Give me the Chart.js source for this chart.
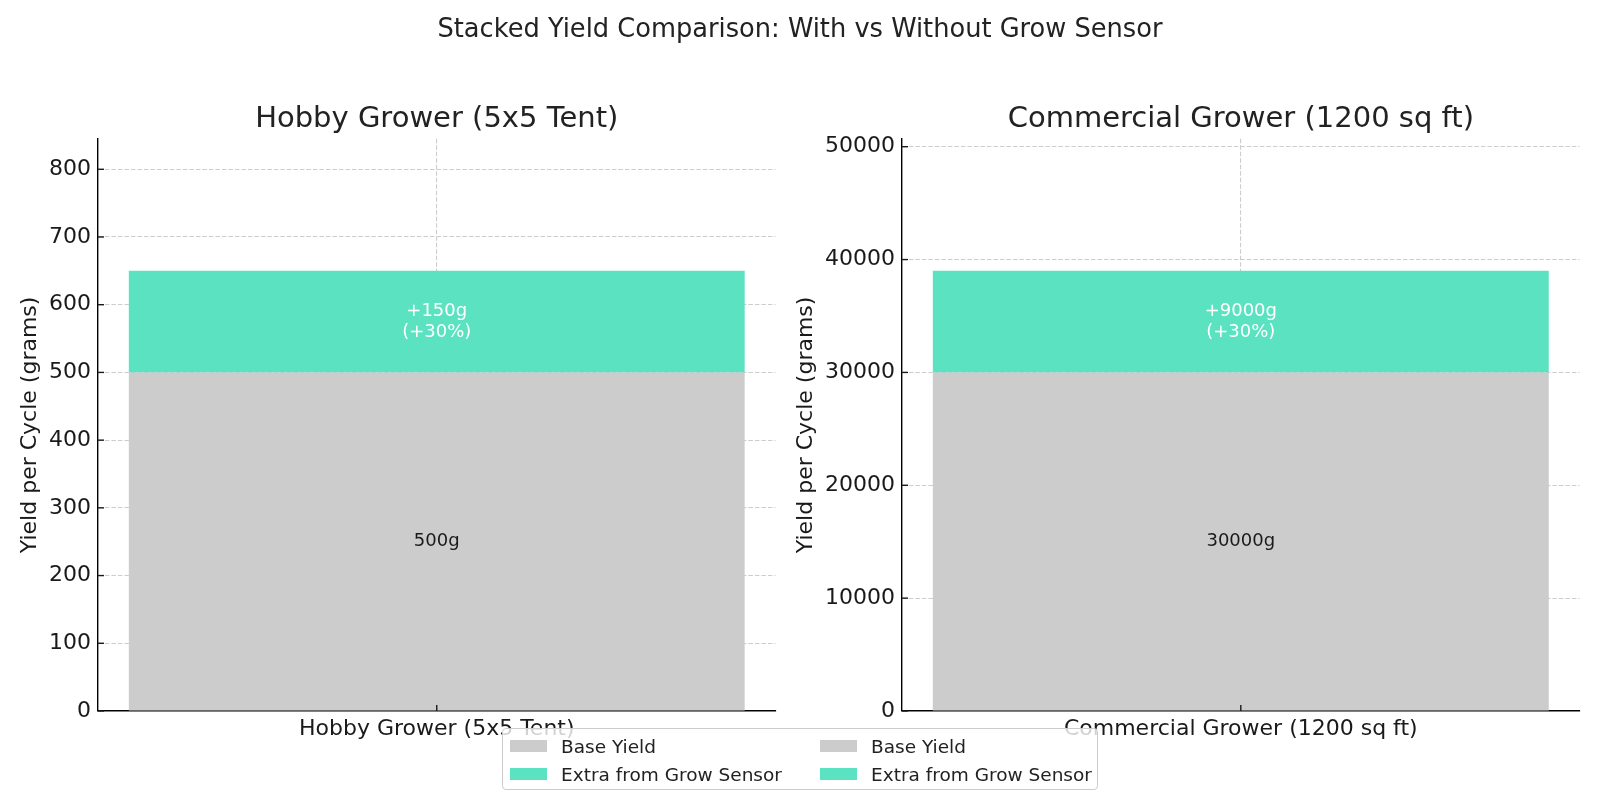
<!DOCTYPE html>
<html>
<head>
<meta charset="utf-8">
<script src="https://cdn.jsdelivr.net/npm/chart.js@4.4.1/dist/chart.umd.min.js"></script>
<style>
html,body{margin:0;padding:0;background:#fff;width:1600px;height:800px;overflow:hidden;font-family:'DejaVu Sans',sans-serif;}
#wrap{position:relative;width:1600px;height:800px;}
canvas{position:absolute;top:0;}
#cA{left:0;}
#cB{left:780px;}
#sup{position:absolute;left:0;width:1600px;top:15px;text-align:center;font-size:25.7px;line-height:26px;color:#222;white-space:nowrap;}
#legend{position:absolute;left:502px;top:728px;width:596px;height:62px;box-sizing:border-box;border:1px solid #cccccc;border-radius:4px;background:rgba(255,255,255,0.8);}
.item{position:absolute;height:28px;display:flex;align-items:center;font-size:18.5px;color:#222;white-space:nowrap;}
.sw{width:37px;height:12px;margin-right:14px;flex:none;}
</style>
</head>
<body>
<div id="wrap">
  <canvas id="cA" width="800" height="800"></canvas>
  <canvas id="cB" width="820" height="800"></canvas>
  <div id="sup"></div>
  <div id="legend"></div>
</div>
<script>
// ---------------- data ----------------
const suptitle = 'Stacked Yield Comparison: With vs Without Grow Sensor';
const subTitles = ['Hobby Grower (5x5 Tent)', 'Commercial Grower (1200 sq ft)'];
const categoriesA = ['Hobby Grower (5x5 Tent)'];
const categoriesB = ['Commercial Grower (1200 sq ft)'];
const seriesNames = ['Base Yield', 'Extra from Grow Sensor'];
const seriesColors = ['#cccccc', '#5ae2c1'];
const baseYieldA = [500];
const extraYieldA = [150];
const baseYieldB = [30000];
const extraYieldB = [9000];
const yTicksA = [0, 100, 200, 300, 400, 500, 600, 700, 800];
const yTicksB = [0, 10000, 20000, 30000, 40000, 50000];
const yMaxA = 845;
const yMaxB = 50700;
const yAxisTitle = 'Yield per Cycle (grams)';

// ---------------- helpers ----------------
const FONT = "'DejaVu Sans', sans-serif";
Chart.defaults.font.family = FONT;
Chart.defaults.color = '#1a1a1a';
const GRID = 'rgba(200,200,200,0.9)';

function labelsFor(base, extra) {
  return [
    base.map(v => [v + 'g']),
    extra.map((v, i) => ['+' + v + 'g', '(+' + Math.round(v / base[i] * 100) + '%)'])
  ];
}

const decor = {
  id: 'decor',
  afterDraw(chart, args, opts) {
    const ctx = chart.ctx;
    const ca = chart.chartArea;
    // data labels
    chart.data.datasets.forEach((ds, di) => {
      const meta = chart.getDatasetMeta(di);
      meta.data.forEach((bar, i) => {
        const lines = opts.labels[di][i];
        const cy = (bar.y + bar.base) / 2;
        ctx.save();
        ctx.font = '18px ' + FONT;
        ctx.fillStyle = opts.labelColors[di];
        ctx.textAlign = 'center';
        ctx.textBaseline = 'middle';
        const lh = 20.5;
        lines.forEach((t, k) => ctx.fillText(t, bar.x, cy + (k - (lines.length - 1) / 2) * lh));
        ctx.restore();
      });
    });
    // inward tick marks
    ctx.save();
    ctx.strokeStyle = '#1a1a1a';
    ctx.lineWidth = 1.4;
    const ys = chart.scales.y;
    ys.ticks.forEach(t => {
      const py = ys.getPixelForValue(t.value);
      ctx.beginPath(); ctx.moveTo(ca.left, py); ctx.lineTo(ca.left + 6, py); ctx.stroke();
    });
    const xs = chart.scales.x;
    xs.ticks.forEach((t, i) => {
      const px = xs.getPixelForTick(i);
      ctx.beginPath(); ctx.moveTo(px, ca.bottom); ctx.lineTo(px, ca.bottom - 6); ctx.stroke();
    });
    ctx.restore();
    // subplot title
    ctx.save();
    ctx.font = '29px ' + FONT;
    ctx.fillStyle = '#222';
    ctx.textAlign = 'center';
    ctx.textBaseline = 'middle';
    ctx.fillText(opts.title, (ca.left + ca.right) / 2, 119);
    ctx.restore();
  }
};

function makeChart(id, cats, base, extra, ticks, yMax, yWidth, padRight, titlePad, title) {
  const labels = labelsFor(base, extra);
  return new Chart(document.getElementById(id), {
    type: 'bar',
    data: {
      labels: cats,
      datasets: [
        { label: seriesNames[0], data: base, backgroundColor: seriesColors[0], borderWidth: 0,
          categoryPercentage: 1, barPercentage: 0.909 },
        { label: seriesNames[1], data: extra, backgroundColor: seriesColors[1], borderWidth: 0,
          categoryPercentage: 1, barPercentage: 0.909 }
      ]
    },
    plugins: [decor],
    options: {
      responsive: false,
      animation: false,
      events: [],
      layout: { padding: { top: 138.8, left: 0, right: padRight, bottom: 0 } },
      plugins: {
        legend: { display: false },
        tooltip: { enabled: false },
        title: { display: false },
        decor: { labels: labels, labelColors: ['#1a1a1a', '#ffffff'], title: title }
      },
      scales: {
        x: {
          stacked: true,
          offset: true,
          z: 1,
          grid: { offset: false, color: GRID, lineWidth: 1.1, drawTicks: false },
          border: { display: true, color: '#000', width: 1.4, dash: [4.5, 2] },
          ticks: { font: { size: 22 }, color: '#1a1a1a', padding: 5, maxRotation: 0 },
          afterFit(s) { s.height = 89; }
        },
        y: {
          stacked: true,
          min: 0,
          max: yMax,
          z: 1,
          grid: { color: GRID, lineWidth: 1.1, drawTicks: false },
          border: { display: true, color: '#000', width: 1.4, dash: [4.5, 2] },
          ticks: { font: { size: 22 }, color: '#1a1a1a', padding: 7, callback: v => String(v) },
          afterBuildTicks(s) { s.ticks = ticks.map(v => ({ value: v })); },
          afterFit(s) { s.width = yWidth; },
          title: { display: true, text: yAxisTitle, font: { size: 22 }, color: '#1a1a1a',
                   padding: { top: titlePad, bottom: 0 } }
        }
      }
    }
  });
}

makeChart('cA', categoriesA, baseYieldA, extraYieldA, yTicksA, yMaxA, 98, 24.5, 17.4, subTitles[0]);
makeChart('cB', categoriesB, baseYieldB, extraYieldB, yTicksB, yMaxB, 122, 20.4, 13.3, subTitles[1]);

// suptitle and shared legend
document.getElementById('sup').textContent = suptitle;
const legend = document.getElementById('legend');
const cols = [7, 317];
cols.forEach(cx => {
  seriesNames.forEach((name, i) => {
    const it = document.createElement('div');
    it.className = 'item';
    it.style.left = cx + 'px';
    it.style.top = (3 + i * 28) + 'px';
    const sw = document.createElement('span');
    sw.className = 'sw';
    sw.style.background = seriesColors[i];
    const tx = document.createElement('span');
    tx.textContent = name;
    it.appendChild(sw); it.appendChild(tx);
    legend.appendChild(it);
  });
});
</script>
</body>
</html>
